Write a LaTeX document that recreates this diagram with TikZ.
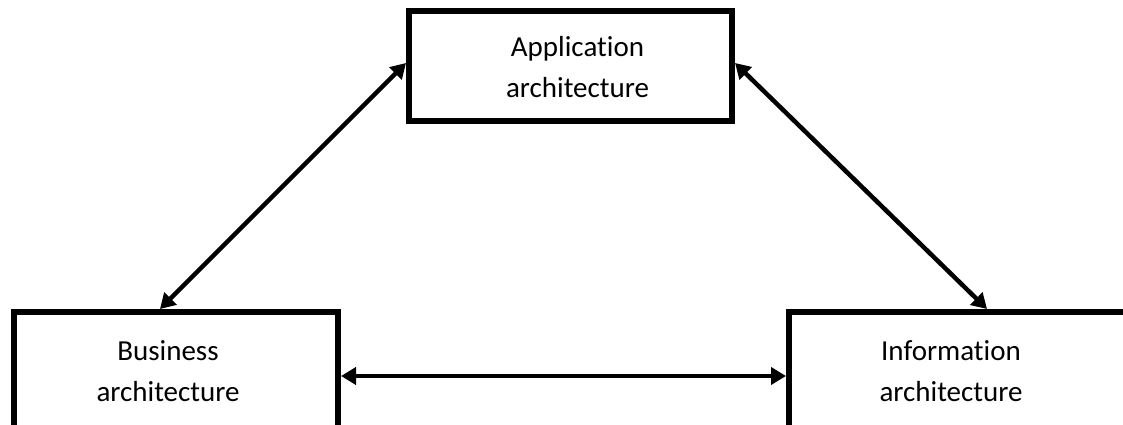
\documentclass[tikz,border=0pt]{standalone}
\usepackage{fontspec}
\setmainfont{Carlito}[Ligatures={NoCommon}]
\usetikzlibrary{arrows.meta}
\begin{document}
\begin{tikzpicture}[x=1pt,y=-1pt,
  archbox/.style={draw=black,line width=6pt,rectangle,fill=white,inner sep=0pt},
  archtext/.style={align=center,inner sep=0pt,font=\fontsize{29}{41}\selectfont},
  link/.style={line width=4.5pt,
    {Triangle[length=15pt,width=17pt]}-{Triangle[length=15pt,width=17pt]}}
]
\useasboundingbox (0,0) rectangle (1123,425);
\fill[white] (0,0) rectangle (1123,425);
\clip (0,0) rectangle (1123,425);
\node[archbox, minimum width=323pt, minimum height=110pt] (app) at (570.5,66) {};
\node[archbox, minimum width=324pt, minimum height=120pt] (bus) at (176,372) {};
\node[archbox, minimum width=340pt, minimum height=120pt] (inf) at (959,372) {};
\node[archtext] (apptext) at ([xshift=7pt,yshift=-1pt]app.center) {Application\\architecture};
\node[archtext] (bustext) at ([xshift=-8pt,yshift=1pt]bus.center) {Business\\architecture};
\node[archtext] (inftext) at ([xshift=-8pt,yshift=1pt]inf.center) {Information\\architecture};
\draw[link] ([xshift=-16pt]bus.north) -- ([yshift=3pt]app.west);
\draw[link] ([xshift=28pt]inf.north) -- ([yshift=3pt]app.east);
\draw[link] ([yshift=-4pt]bus.east) -- ([yshift=-4pt]inf.west);
\end{tikzpicture}
\end{document}
